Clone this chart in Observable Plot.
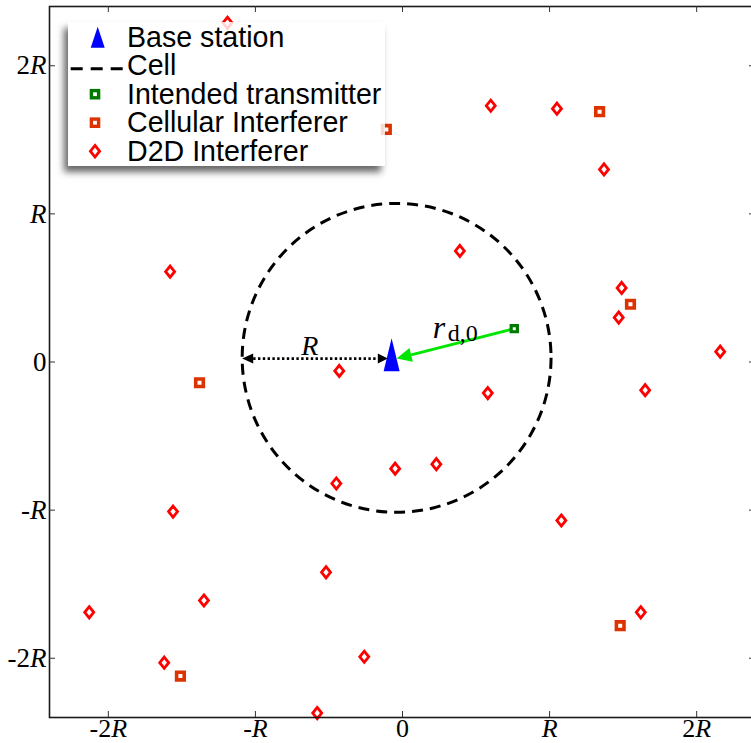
<!DOCTYPE html>
<html>
<head>
<meta charset="utf-8">
<script src="https://cdn.jsdelivr.net/npm/d3@7"></script>
<script src="https://cdn.jsdelivr.net/npm/@observablehq/plot@0.6"></script>
<style>
  html, body { margin: 0; padding: 0; background: #fff; overflow: hidden; }
  #wrap { position: relative; width: 751px; height: 743px; overflow: hidden; }
  #chart { width: 760px; }
  #chart svg { max-width: none !important; }
  #legend { position: absolute; left: 68px; top: 22px; width: 317px; height: 144px;
            background: rgba(255,255,255,0.82); box-shadow: -4px 6px 7px rgba(0,0,0,0.6); }
</style>
</head>
<body>
<div id="wrap"><div id="chart"></div><div id="legend"></div></div>
<script>
// ---------- data ----------
const xTicks = [-2, -1, 0, 1, 2];
const xTickLabels = ["-2R", "-R", "0", "R", "2R"];
const yTicks = [-2, -1, 0, 1, 2];
const yTickLabels = ["-2R", "-R", "0", "R", "2R"];

const d2dX = [-1.19, 0.60, 1.05, 1.37, 0.39, -1.58, 1.49, 1.47, 2.16, -0.43, 0.58, 1.65, -0.05, 0.23, -0.45, 1.08, -1.56, -1.35, -2.13, -0.52, 1.62, -1.62, -0.26, -0.58];
const d2dY = [2.29, 1.73, 1.71, 1.30, 0.75, 0.61, 0.50, 0.30, 0.07, -0.06, -0.21, -0.19, -0.72, -0.69, -0.82, -1.07, -1.01, -1.61, -1.69, -1.42, -1.69, -2.03, -1.99, -2.37];
const cellIntX = [1.34, -0.11, 1.55, -1.38, 1.48, -1.51];
const cellIntY = [1.69, 1.57, 0.39, -0.14, -1.78, -2.12];
const txX = [0.76];
const txY = [0.225];
const bsX = [-0.074];
const bsY = [0.049];
const cellCenter = [-0.04, 0.028];
const cellRadius = 1.05;
const rArrow = {x1: -1.09, y1: 0.023, x2: -0.10, y2: 0.023};
const gArrow = {x1: 0.76, y1: 0.225, x2: -0.04, y2: 0.023};
const rLabel = {x: -0.63, y: 0.106, text: "R"};
const rdLabel = {x: 0.205, y: 0.232, main: "r", sub: "d,0"};
const legendLabels = ["Base station", "Cell", "Intended transmitter", "Cellular Interferer", "D2D Interferer"];

// ---------- layout ----------
const xDomain = [-2.4, 2.4], yDomain = [-2.4, 2.4];
const W = 760, H = 743, mL = 49, mR = 5, mT = 6, mB = 26;
const plotW = W - mL - mR, plotH = H - mT - mB;
const kx = plotW / (xDomain[1] - xDomain[0]);
const ky = plotH / (yDomain[1] - yDomain[0]);

const colD2D = "#ff0000", colCell = "#dd3300", colTx = "#007a00", colBS = "#0000ff", colG = "#00e600";

// custom symbols (pixel sizes are styles)
const thinDiamond = (hw, hh) => ({draw(c) { c.moveTo(0, -hh); c.lineTo(hw, 0); c.lineTo(0, hh); c.lineTo(-hw, 0); c.closePath(); }});
const squareSym = (s) => ({draw(c) { const h = s / 2; c.moveTo(-h, -h); c.lineTo(h, -h); c.lineTo(h, h); c.lineTo(-h, h); c.closePath(); }});
const triSym = (hw, hh) => ({draw(c) { c.moveTo(0, -hh); c.lineTo(hw, hh); c.lineTo(-hw, hh); c.closePath(); }});
function headSym(angle, len, hw) {
  const co = Math.cos(angle), si = Math.sin(angle);
  const rot = (px, py) => [px * co - py * si, px * si + py * co];
  return {draw(c) {
    const a = rot(-len, hw), b = rot(-len, -hw);
    c.moveTo(0, 0); c.lineTo(a[0], a[1]); c.lineTo(b[0], b[1]); c.closePath();
  }};
}
function arrowParts(x1, y1, x2, y2, headLen) {
  const dxp = (x2 - x1) * kx, dyp = -(y2 - y1) * ky;
  const L = Math.hypot(dxp, dyp), ux = dxp / L, uy = dyp / L;
  return {angle: Math.atan2(dyp, dxp), bx: x2 - headLen * ux / kx, by: y2 + headLen * uy / ky};
}

const rEnd = arrowParts(rArrow.x1, rArrow.y1, rArrow.x2, rArrow.y2, 10);
const rStart = arrowParts(rArrow.x2, rArrow.y2, rArrow.x1, rArrow.y1, 11);
const gEnd = arrowParts(gArrow.x1, gArrow.y1, gArrow.x2, gArrow.y2, 15);

const d2d = d2dX.map((x, i) => ({x, y: d2dY[i]}));
const cells = cellIntX.map((x, i) => ({x, y: cellIntY[i]}));
const tx = txX.map((x, i) => ({x, y: txY[i]}));
const bs = bsX.map((x, i) => ({x, y: bsY[i]}));

const chart = Plot.plot({
  width: W, height: H,
  marginLeft: mL, marginRight: mR, marginTop: mT, marginBottom: mB,
  x: {domain: xDomain},
  y: {domain: yDomain},
  style: {fontFamily: "Liberation Serif", fontSize: "26px", background: "white", color: "black", overflow: "visible"},
  marks: [
    Plot.dot([cellCenter], {x: d => d[0], y: d => d[1], r: cellRadius * kx, fill: "none", stroke: "black", strokeWidth: 3, strokeDasharray: "11,7"}),
    Plot.link([rArrow], {x1: rStart.bx, y1: rArrow.y1, x2: rEnd.bx, y2: rEnd.by, stroke: "black", strokeWidth: 2.6, strokeDasharray: "2.4,2.4"}),
    Plot.dot([rArrow], {x: "x2", y: "y2", symbol: headSym(rEnd.angle, 10, 5), fill: "black", stroke: "none"}),
    Plot.dot([rArrow], {x: "x1", y: "y1", symbol: headSym(rStart.angle, 11, 5), fill: "black", stroke: "none"}),
    Plot.dot(d2d, {x: "x", y: "y", symbol: thinDiamond(4.5, 5.6), fill: "white", stroke: colD2D, strokeWidth: 2.8, strokeLinejoin: "miter"}),
    Plot.dot(cells, {x: "x", y: "y", symbol: squareSym(7.6), fill: "white", stroke: colCell, strokeWidth: 3.6, strokeLinejoin: "miter"}),
    Plot.link([gArrow], {x1: "x1", y1: "y1", x2: gEnd.bx, y2: gEnd.by, stroke: colG, strokeWidth: 3}),
    Plot.dot(tx, {x: "x", y: "y", symbol: squareSym(6.2), fill: "white", stroke: colTx, strokeWidth: 3.2, strokeLinejoin: "miter"}),
    Plot.dot(bs, {x: "x", y: "y", symbol: triSym(8, 16.5), fill: colBS, stroke: "none"}),
    Plot.dot([gArrow], {x: "x2", y: "y2", symbol: headSym(gEnd.angle, 15, 7), fill: colG, stroke: "none"}),
    Plot.text([rLabel], {x: "x", y: "y", text: "text", fontFamily: "Liberation Serif", fontStyle: "italic", fontSize: 28}),
    Plot.text([rdLabel], {x: "x", y: "y", text: "main", textAnchor: "start", fontFamily: "Liberation Serif", fontStyle: "italic", fontSize: 32}),
    Plot.text([rdLabel], {x: "x", y: "y", text: "sub", textAnchor: "start", dx: 15, dy: 6, fontFamily: "Liberation Serif", fontSize: 24}),
    Plot.frame({stroke: "#1a1a1a", strokeWidth: 1.6}),
    Plot.tickX(xTicks, {x: d => d, insetTop: plotH - 6, stroke: "#333", strokeWidth: 1}),
    Plot.tickX(xTicks, {x: d => d, insetBottom: plotH - 6, stroke: "#333", strokeWidth: 1}),
    Plot.tickY(yTicks, {y: d => d, insetRight: plotW - 6, stroke: "#333", strokeWidth: 1}),
    Plot.tickY(yTicks, {y: d => d, insetLeft: plotW - 6, stroke: "#333", strokeWidth: 1}),
    Plot.axisX(xTicks, {tickSize: 0, tickPadding: 1, tickFormat: d => xTickLabels[xTicks.indexOf(d)], label: null, fontSize: 26}),
    Plot.axisY(yTicks, {tickSize: 0, tickPadding: 3, tickFormat: d => yTickLabels[yTicks.indexOf(d)], label: null, fontSize: 27})
  ]
});
document.getElementById("chart").appendChild(chart);

// italicise the R in tick labels (LaTeX-like)
const NS = "http://www.w3.org/2000/svg";
chart.querySelectorAll('g[aria-label$="tick label"] text').forEach(t => {
  const s = t.textContent;
  if (s.endsWith("R")) {
    t.textContent = "";
    const pre = s.slice(0, -1);
    if (pre) { const a = document.createElementNS(NS, "tspan"); a.textContent = pre; t.appendChild(a); }
    const b = document.createElementNS(NS, "tspan"); b.setAttribute("font-style", "italic"); b.textContent = "R"; t.appendChild(b);
  }
});

// ---------- legend ----------
const lg = d3.select("#legend").append("svg").attr("width", 317).attr("height", 144)
  .style("font-family", "'Liberation Sans', Arial, sans-serif").style("font-size", "28.6px");
const base0 = 24.7, step = 28.5, textX = 59, swX = 27;
legendLabels.forEach((lab, i) => {
  lg.append("text").attr("x", textX).attr("y", base0 + i * step).attr("fill", "black").text(lab);
});
const cy = i => base0 + i * step - 9.5;
lg.append("path").attr("d", `M${swX + 2.7},${cy(0) - 10.5}l7,21h-14z`).attr("fill", colBS);
lg.append("line").attr("x1", 2.7).attr("x2", 56).attr("y1", cy(1) + 3).attr("y2", cy(1) + 3)
  .attr("stroke", "black").attr("stroke-width", 3).attr("stroke-dasharray", "12,8");
lg.append("rect").attr("x", swX - 3.6).attr("y", cy(2) - 3.6).attr("width", 7.2).attr("height", 7.2)
  .attr("fill", "white").attr("stroke", colTx).attr("stroke-width", 3.4);
lg.append("rect").attr("x", swX - 3.6).attr("y", cy(3) - 3.6).attr("width", 7.2).attr("height", 7.2)
  .attr("fill", "white").attr("stroke", colCell).attr("stroke-width", 3.4);
lg.append("path").attr("d", `M${swX},${cy(4) - 5.8}l4.6,5.8l-4.6,5.8l-4.6,-5.8z`)
  .attr("fill", "white").attr("stroke", colD2D).attr("stroke-width", 2.8);
</script>
</body>
</html>
